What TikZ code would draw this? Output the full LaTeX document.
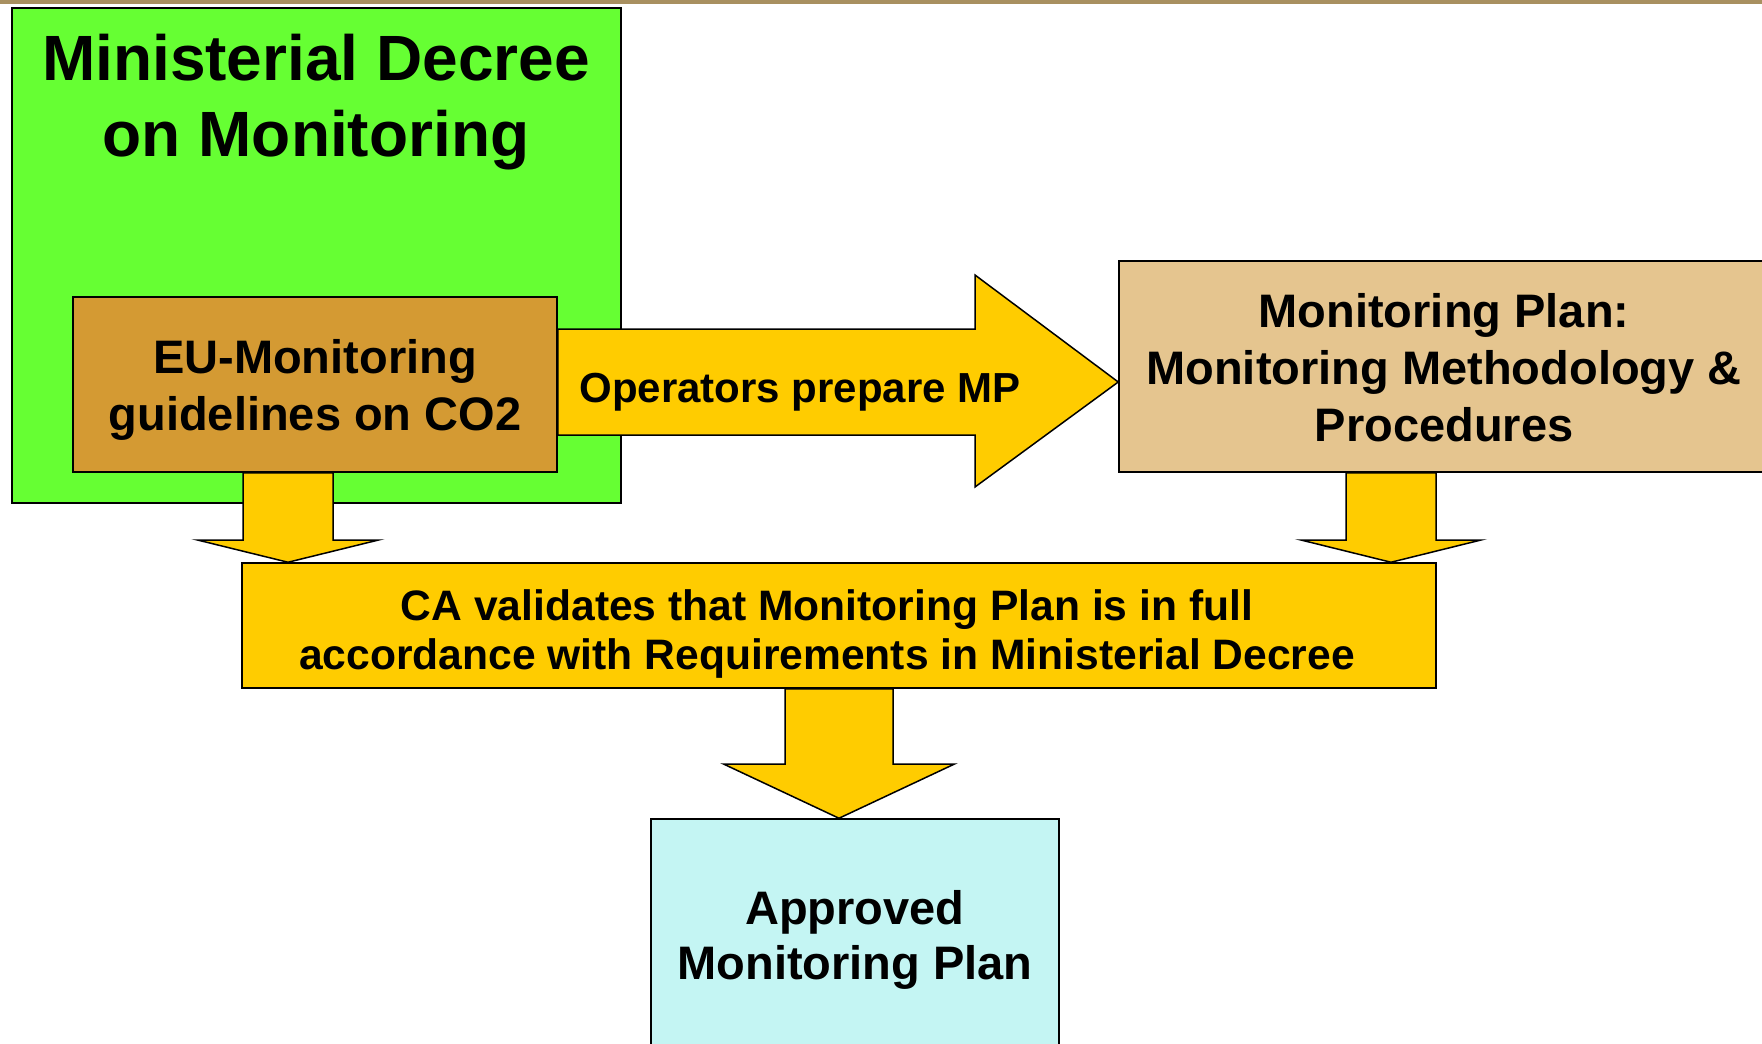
\documentclass[tikz,border=0pt]{standalone}
\usepackage{fontspec}
\setmainfont{Liberation Sans}
\definecolor{decreegreen}{HTML}{66FF33}
\definecolor{eubrown}{HTML}{D49A33}
\definecolor{arrowyellow}{HTML}{FFCC00}
\definecolor{plantan}{HTML}{E5C58F}
\definecolor{okcyan}{HTML}{C4F5F3}
\definecolor{topbar}{HTML}{A89060}

\begin{document}
\begin{tikzpicture}[x=1pt,y=-1pt,
	box/.style={draw=black, line width=1.5pt, inner sep=0pt, rectangle},
	blockarrow/.style={draw=black, line width=1.5pt, fill=arrowyellow, line join=miter},
	txt/.style={align=center, inner sep=0pt}]
	% x of shaft, shaft half width, head half width, y of head base, from, to
	\newcommand\BlockDown[6]{\draw[blockarrow] ({#1-#2},0 |- #5.south) -- ({#1+#2},0 |- #5.south) -- ({#1+#2},#4) -- ({#1+#3},#4) -- (#1,0 |- #6.north) -- ({#1-#3},#4) -- ({#1-#2},#4) -- cycle;}

	\useasboundingbox (0,0) rectangle (1762,1044);
	\fill[topbar] (0,0) rectangle (1762,3.5);

	\node[box, fill=decreegreen, minimum width=609, minimum height=495] (decree) at (316.5,255.5) {};
	\node[box, fill=eubrown, minimum width=484, minimum height=175] (eu) at (315,384.5) {};
	\node[box, fill=plantan, minimum width=651, minimum height=211] (mp) at (1444.5,366.5) {};
	\node[box, fill=arrowyellow, minimum width=1194, minimum height=125] (ca) at (839,625.5) {};
	\node[box, fill=okcyan, minimum width=408, minimum height=241] (ok) at (855,939.5) {};

	\draw[blockarrow] (eu.east |- 0,329) -- (975,329) -- (975,275) -- (mp.west |- 0,382)
		-- (975,487) -- (975,435) -- (eu.east |- 0,435) -- cycle;
	\BlockDown{288}{45}{90.5}{540}{eu}{ca}
	\BlockDown{1391}{45}{90}{540}{mp}{ca}
	\BlockDown{839}{54}{115.5}{764}{ca}{ok}

	\node[txt, font=\bfseries\fontsize{64}{76}\selectfont] (decree-t) at (316,102) {Ministerial Decree\\on Monitoring};
	\node[txt, font=\bfseries\fontsize{47}{57}\selectfont] (eu-t) at (315,390) {EU-Monitoring\\guidelines on CO2};
	\node[txt, font=\bfseries\fontsize{42}{50}\selectfont] (prep-t) at (800,392) {Operators prepare MP};
	\node[txt, font=\bfseries\fontsize{47}{57}\selectfont] (mp-t) at (1444,368) {Monitoring Plan:\\Monitoring Methodology \&\\Procedures};
	\node[txt, font=\bfseries\fontsize{42.6}{49}\selectfont] (ca-t) at (827,633.5) {CA validates that Monitoring Plan is in full\\accordance with Requirements in Ministerial Decree};
	\node[txt, font=\bfseries\fontsize{47}{55}\selectfont] (ok-t) at (855,940) {Approved\\Monitoring Plan};
\end{tikzpicture}
\end{document}
